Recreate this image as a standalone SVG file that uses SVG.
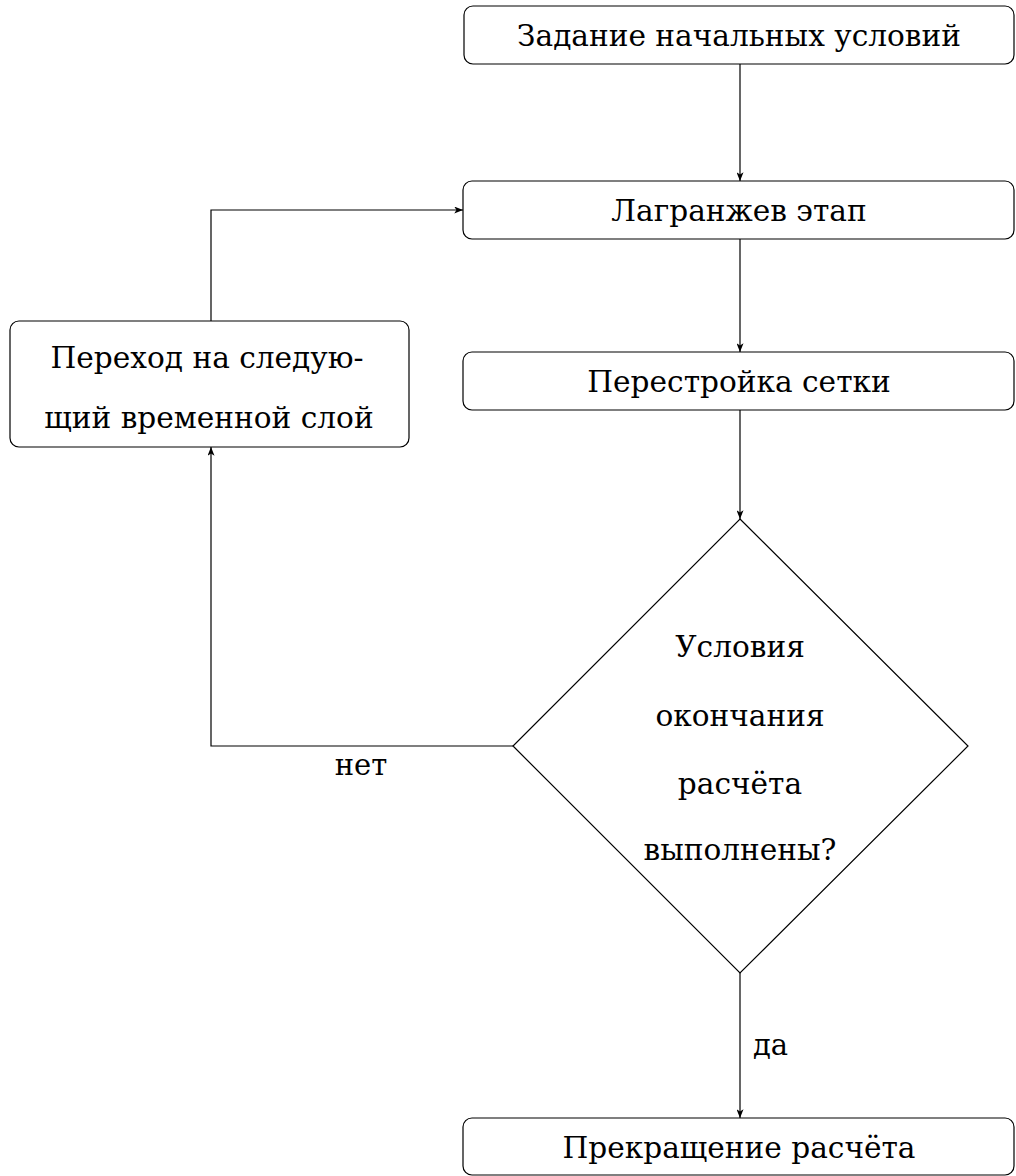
<svg xmlns="http://www.w3.org/2000/svg" width="1016" height="1176" viewBox="0 0 1016 1176">
<style>
.box{fill:#fff;stroke:#000;stroke-width:1.2}
.t{font-family:"DejaVu Serif",serif;font-size:29.6px;fill:#000;text-anchor:middle}
.lbl{font-family:"DejaVu Serif",serif;font-size:29px;fill:#000}
.c{fill:none;stroke:#000;stroke-width:1.2}
</style>
<defs>
<marker id="ah" viewBox="0 0 10 8" refX="10" refY="4" markerWidth="9" markerHeight="7" markerUnits="userSpaceOnUse" orient="auto">
<path d="M0,0 L10,4 L0,8 L2.5,4 Z" fill="#000"/>
</marker>
</defs>
<rect width="1016" height="1176" fill="#fff"/>
<g id="connectors">
<line class="c" x1="740" y1="64" x2="740" y2="181" marker-end="url(#ah)"/>
<line class="c" x1="740" y1="239" x2="740" y2="352" marker-end="url(#ah)"/>
<line class="c" x1="740" y1="410" x2="740" y2="519" marker-end="url(#ah)"/>
<line class="c" x1="740" y1="973" x2="740" y2="1118" marker-end="url(#ah)"/>
<polyline class="c" points="513,746 211,746 211,447" marker-end="url(#ah)"/>
<polyline class="c" points="211,321 211,210 463,210" marker-end="url(#ah)"/>
<text class="lbl" x="361" y="775" text-anchor="middle">нет</text>
<text class="lbl" x="753" y="1055">да</text>
</g>
<g id="start">
<rect class="box" x="464" y="6" width="550" height="58" rx="9"/>
<text class="t" x="739" y="46">Задание начальных условий</text>
</g>
<g id="lagrange">
<rect class="box" x="463" y="181" width="551" height="58" rx="9"/>
<text class="t" x="739" y="221">Лагранжев этап</text>
</g>
<g id="remesh">
<rect class="box" x="463" y="352" width="551" height="58" rx="9"/>
<text class="t" x="739" y="392">Перестройка сетки</text>
</g>
<g id="decision">
<polygon class="box" points="740,519 968,746 740,973 513,746"/>
<text class="t" x="740" y="657">Условия</text>
<text class="t" x="740" y="726">окончания</text>
<text class="t" x="740" y="794">расчёта</text>
<text class="t" x="740" y="860">выполнены?</text>
</g>
<g id="next">
<rect class="box" x="10" y="321" width="399" height="126" rx="9"/>
<text class="t" x="207" y="368">Переход на следую-</text>
<text class="t" x="209" y="428">щий временной слой</text>
</g>
<g id="stop">
<rect class="box" x="463" y="1118" width="551" height="57" rx="9"/>
<text class="t" x="739" y="1158">Прекращение расчёта</text>
</g>
</svg>
